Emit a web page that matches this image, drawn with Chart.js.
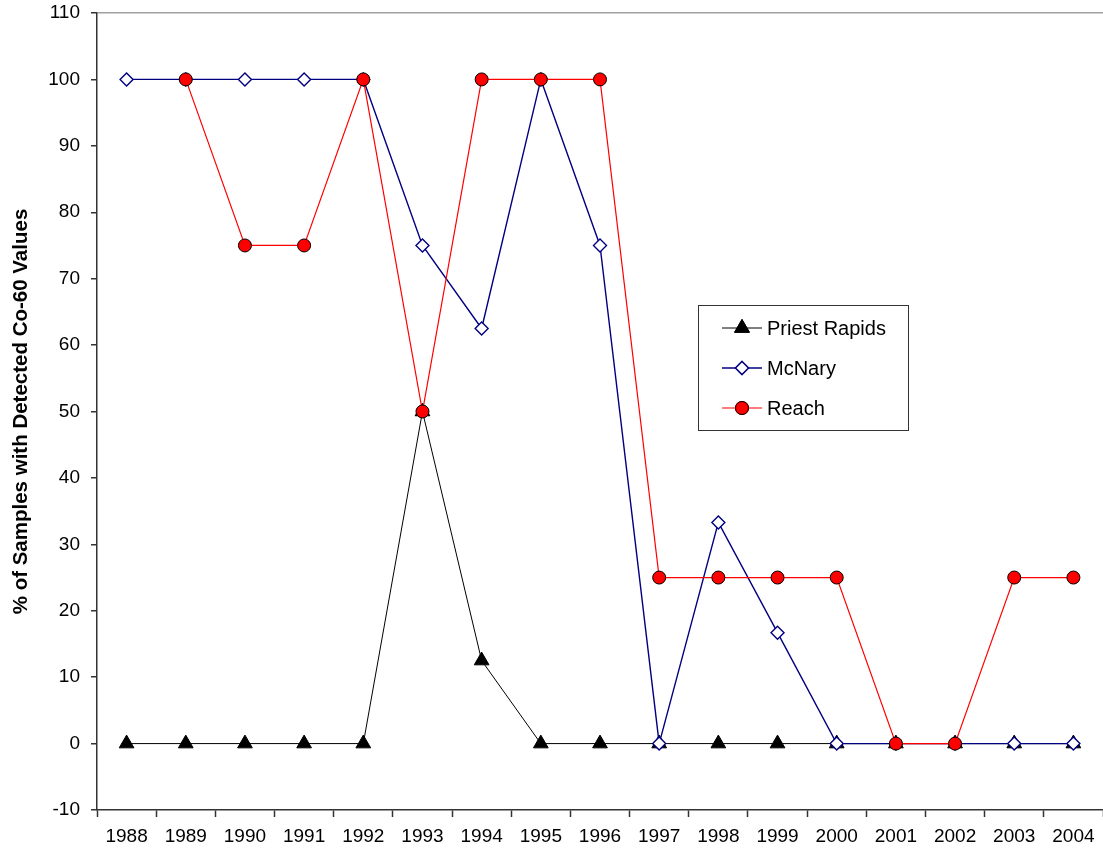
<!DOCTYPE html>
<html>
<head>
<meta charset="utf-8">
<script src="https://cdn.jsdelivr.net/npm/chart.js@4.4.0/dist/chart.umd.min.js"></script>
<style>
  html, body { margin: 0; padding: 0; background: #fff; }
  #wrap { width: 1103px; height: 853px; position: relative; }
</style>
</head>
<body>
<div id="wrap"><canvas id="chart"></canvas></div>
<script>
// data
const years = ['1988', '1989', '1990', '1991', '1992', '1993', '1994', '1995', '1996',
  '1997', '1998', '1999', '2000', '2001', '2002', '2003', '2004'];
const priestRapids = [0, 0, 0, 0, 0, 50, 12.5, 0, 0, 0, 0, 0, 0, 0, 0, 0, 0];
const mcNary = [100, 100, 100, 100, 100, 75, 62.5, 100, 75, 0, 33.3, 16.7, 0, 0, 0, 0, 0];
const reach = [null, 100, 75, 75, 100, 50, 100, 100, 100, 25, 25, 25, 25, 0, 0, 25, 25];

const FONT = 'Liberation Sans, Arial, sans-serif';

// legend box drawn inside the plot, like the original
const boxLegend = {
  id: 'boxLegend',
  afterDraw(chart) {
    const ctx = chart.ctx;
    const x0 = 698, y0 = 305, w = 210, h = 125;
    ctx.save();
    ctx.fillStyle = '#fff';
    ctx.fillRect(x0, y0, w, h);
    ctx.strokeStyle = '#333';
    ctx.lineWidth = 1;
    ctx.strokeRect(x0 + 0.5, y0 + 0.5, w, h);
    chart.data.datasets.forEach((ds, i) => {
      const y = y0 + 23 + i * 40;
      ctx.strokeStyle = ds.borderColor;
      ctx.lineWidth = ds.borderWidth;
      ctx.beginPath();
      ctx.moveTo(x0 + 24, y);
      ctx.lineTo(x0 + 64, y);
      ctx.stroke();
      Chart.helpers.drawPoint(ctx, {
        pointStyle: ds.pointStyle,
        radius: ds.pointRadius,
        borderWidth: ds.pointBorderWidth,
        rotation: 0
      }, x0 + 44, y);
      ctx.fillStyle = ds.pointBackgroundColor;
      ctx.strokeStyle = ds.pointBorderColor;
      ctx.lineWidth = ds.pointBorderWidth;
      ctx.fill();
      ctx.stroke();
      ctx.fillStyle = '#000';
      ctx.font = '20px ' + FONT;
      ctx.textBaseline = 'middle';
      ctx.fillText(ds.label, x0 + 69, y + 1);
    });
    ctx.restore();
  }
};

new Chart(document.getElementById('chart'), {
  type: 'line',
  data: {
    labels: years,
    datasets: [
      {
        label: 'Priest Rapids',
        data: priestRapids,
        borderColor: '#000',
        borderWidth: 1,
        pointStyle: 'triangle',
        pointRadius: 8.5,
        pointBackgroundColor: '#000',
        pointBorderColor: '#000',
        pointBorderWidth: 1,
        order: 3
      },
      {
        label: 'McNary',
        data: mcNary,
        borderColor: '#000080',
        borderWidth: 1.4,
        pointStyle: 'rectRot',
        pointRadius: 6.5,
        pointBackgroundColor: '#fff',
        pointBorderColor: '#000080',
        pointBorderWidth: 1.4,
        order: 2
      },
      {
        label: 'Reach',
        data: reach,
        borderColor: '#ff0000',
        borderWidth: 1.2,
        pointStyle: 'circle',
        pointRadius: 6.5,
        pointBackgroundColor: '#ff0000',
        pointBorderColor: '#000',
        pointBorderWidth: 1,
        order: 1
      }
    ]
  },
  options: {
    responsive: true,
    maintainAspectRatio: false,
    animation: false,
    devicePixelRatio: 1,
    layout: { autoPadding: false, padding: { top: 13, right: 0, left: 0, bottom: 0 } },
    plugins: {
      legend: { display: false },
      tooltip: { enabled: false }
    },
    elements: { line: { tension: 0 } },
    scales: {
      x: {
        offset: true,
        grid: {
          offset: true,
          drawOnChartArea: false,
          tickLength: 7,
          tickColor: '#333',
          tickWidth: 1.5
        },
        border: { color: '#333', width: 1.5 },
        ticks: {
          color: '#000',
          font: { family: FONT, size: 19 },
          padding: 8,
          maxRotation: 0,
          autoSkip: false
        },
        afterFit(scale) {
          scale.height = 43;
          scale.paddingLeft = 0;
          scale.paddingRight = 0;
        }
      },
      y: {
        min: -10,
        max: 110,
        ticks: {
          stepSize: 10,
          color: '#000',
          font: { family: FONT, size: 19 },
          padding: 11
        },
        grid: {
          color: c => (c.tick && c.tick.value === 110 ? '#a0a0a0' : 'rgba(0,0,0,0)'),
          lineWidth: 1.5,
          tickLength: 6,
          tickColor: '#333',
          tickWidth: 1.5
        },
        border: { color: '#333', width: 1.5 },
        title: {
          display: true,
          text: '% of Samples with Detected Co-60 Values',
          color: '#000',
          font: { family: FONT, size: 20.5, weight: 'bold' },
          padding: { top: 9, bottom: 0 }
        },
        afterFit(scale) {
          scale.width = 97;
          scale.paddingTop = 0;
          scale.paddingBottom = 0;
        }
      }
    }
  },
  plugins: [boxLegend]
});
</script>
</body>
</html>
